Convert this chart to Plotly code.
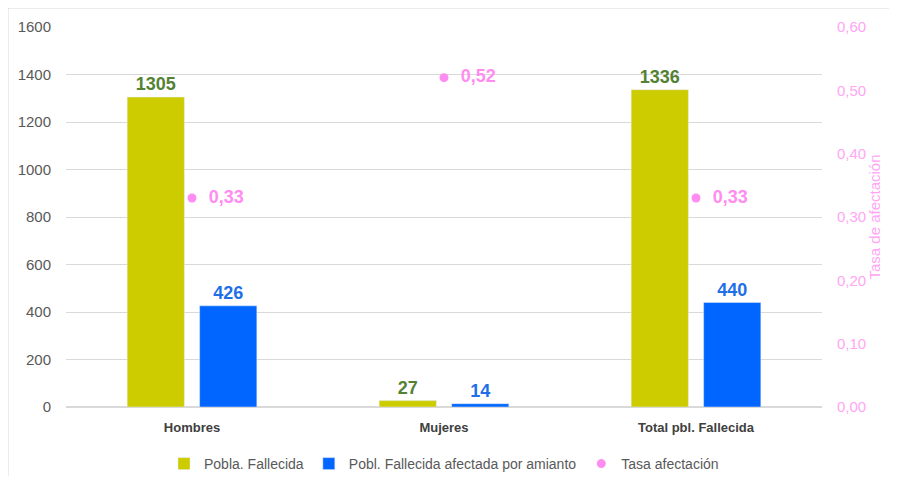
import plotly.graph_objects as go

categories = ["Hombres", "Mujeres", "Total pbl. Fallecida"]
pobla_fallecida = [1305, 27, 1336]
afectada_amianto = [426, 14, 440]
tasa_afectacion = [0.33, 0.52, 0.33]
left_ticks = [0, 200, 400, 600, 800, 1000, 1200, 1400, 1600]
right_ticks = [0, 0.1, 0.2, 0.3, 0.4, 0.5, 0.6]

GREEN = "#CCCC00"
BLUE = "#0066FF"
PINK = "#FF8CF0"
FONT = "Liberation Sans, Arial"

fig = go.Figure()
fig.add_trace(go.Bar(
    x=categories, y=pobla_fallecida, name="Pobla. Fallecida",
    marker=dict(color=GREEN), texttemplate="%{y}", textposition="outside",
    textfont=dict(family="Liberation Sans", size=18, color="#548235", weight="bold"),
    cliponaxis=False,
))
fig.add_trace(go.Bar(
    x=categories, y=afectada_amianto, name="Pobl. Fallecida afectada por amianto",
    marker=dict(color=BLUE), texttemplate="%{y}", textposition="outside",
    textfont=dict(family="Liberation Sans", size=18, color="#1F6FE8", weight="bold"),
    cliponaxis=False,
))
fig.add_trace(go.Scatter(
    x=categories, y=tasa_afectacion, name="Tasa afectación", yaxis="y2",
    mode="markers+text", marker=dict(color=PINK, size=9),
    texttemplate="  %{y:.2f}", textposition="middle right",
    textfont=dict(family="Liberation Sans", size=18, color=PINK, weight="bold"),
    cliponaxis=False,
))

fig.update_layout(
    width=881, height=468,
    margin=dict(l=58, r=67, t=19, b=69, autoexpand=False),
    paper_bgcolor="white", plot_bgcolor="white",
    separators=", ",
    barmode="group", bargap=0.425, bargroupgap=0.21,
    font=dict(family=FONT, size=14, color="#595959"),
    xaxis=dict(showgrid=False, showline=False, ticks="", automargin=False,
               tickfont=dict(family=FONT, size=13, color="#404040", weight="bold"),
               ticklabelstandoff=11),
    yaxis=dict(range=[0, 1600], tickvals=left_ticks, showgrid=True,
               gridcolor="#D9D9D9", gridwidth=1, zeroline=True,
               zerolinecolor="#D9D9D9", showline=False, ticks="",
               ticklabelstandoff=14, automargin=False,
               tickfont=dict(family=FONT, size=15, color="#595959")),
    yaxis2=dict(range=[0, 0.6], tickvals=right_ticks, tickformat=".2f",
                overlaying="y", side="right", showgrid=False, zeroline=False,
                showline=False, ticks="", ticklabelstandoff=14, automargin=False,
                tickfont=dict(family=FONT, size=15, color="#FFA6F5"),
                title=dict(text="Tasa de afectación", standoff=4,
                           font=dict(family=FONT, size=15, color="#FFA6F5"))),
    legend=dict(orientation="h", x=0.5, xanchor="center", y=-0.15,
                yanchor="middle", font=dict(family=FONT, size=14, color="#595959"),
                itemwidth=30, traceorder="normal"),
    showlegend=True,
    shapes=[dict(type="rect", xref="paper", yref="paper",
                 x0=-58/756, x1=1.3, y0=-0.5, y1=1 + 19/380,
                 line=dict(color="#D9D9D9", width=1), layer="below")],
)

fig.write_html("out.html")
